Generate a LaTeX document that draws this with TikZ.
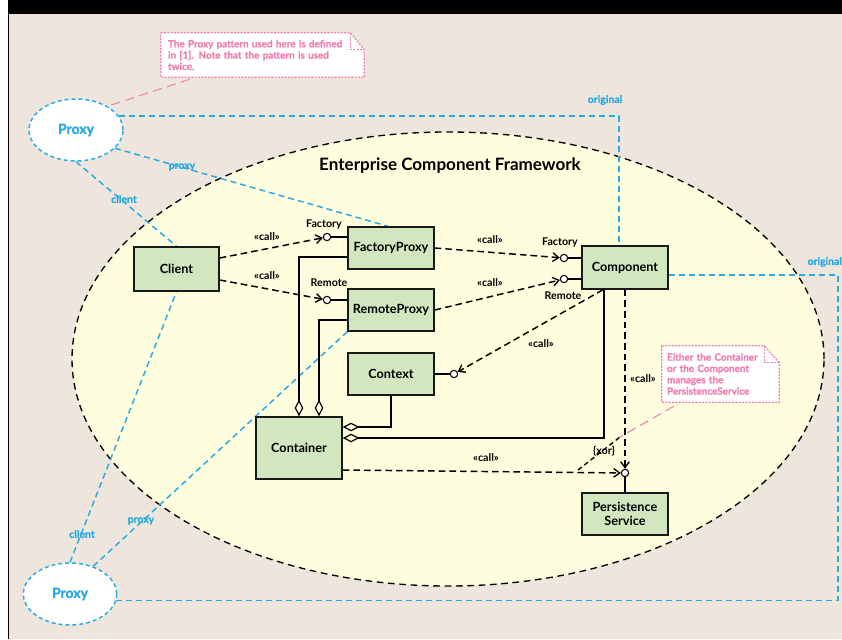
\documentclass[tikz,border=0pt]{standalone}
\usepackage{fontspec}
\setmainfont{Lato}
\newfontfamily\hvy{Lato}[BoldFeatures={FakeBold=1.2}]
\usetikzlibrary{arrows.meta,calc,shapes.geometric}
\pgfdeclarelayer{back}\pgfdeclarelayer{mid}\pgfsetlayers{back,mid,main}
\definecolor{bgc}{HTML}{EEE6DD}
\definecolor{ecfc}{HTML}{FEFDDD}
\definecolor{boxc}{HTML}{D2E6C0}
\definecolor{bluec}{HTML}{29ABE2}
\definecolor{pinkc}{HTML}{F07FB2}
\begin{document}
\begin{tikzpicture}[x=0.75pt,y=-0.75pt,
  box/.style={draw=black!90,line width=1.1pt,fill=boxc,inner sep=0pt,font=\fontsize{9.5}{10}\selectfont\bfseries,align=center},
  lolli/.style={circle,draw,fill=white,line width=0.8pt,minimum size=5.5pt,inner sep=0pt},
  dep/.style={line width=1.1pt,dash pattern=on 5pt off 3pt,-{Straight Barb[length=4.5pt,width=6.5pt,line width=1pt]}},
  agg/.style={line width=0.9pt,-{Diamond[open,length=12.5pt,width=6.5pt,line width=0.9pt]}},
  blk/.style={font=\fontsize{8}{9}\selectfont\bfseries,inner sep=1pt},
  bl/.style={draw=bluec,line width=1.1pt,dash pattern=on 4.5pt off 3pt},
  bll/.style={text=bluec,font=\hvy\fontsize{7.8}{9}\selectfont\bfseries,inner sep=1pt},
  prox/.style={ellipse,draw=bluec,fill=white,line width=1.1pt,dash pattern=on 3pt off 2.2pt,inner sep=0pt,text=bluec,font=\hvy\fontsize{10.5}{12}\selectfont\bfseries},
  pk/.style={draw=pinkc,line width=0.9pt,dash pattern=on 1.5pt off 1pt},
  pkl/.style={draw=pinkc,line width=0.8pt,dash pattern=on 7pt off 4pt},
  pkt/.style={text=pinkc,font=\hvy\fontsize{7.4}{8.5}\selectfont\bfseries,align=left,inner sep=0pt},
]
\useasboundingbox (0,0) rectangle (842,639);
\begin{pgfonlayer}{back}
\fill[white] (0,0) rectangle (842,639);
\fill[bgc] (8,14) rectangle (842,639);
\fill[black] (8,0) rectangle (842,14);
\draw[black,line width=1.2pt] (8.5,0) -- (8.5,639);
\node[ellipse,draw,fill=ecfc,dash pattern=on 5pt off 3.5pt,line width=1pt,minimum width=564pt,minimum height=340.5pt,inner sep=0pt] (ecf) at (448,359) {};
\end{pgfonlayer}
\node[font=\fontsize{12.8}{14}\selectfont\bfseries] (ecft) at (450,166) {Enterprise Component Framework};

% boxes
\node[box,minimum width=63.75pt,minimum height=33pt] (Client) at (176.5,269) {Client};
\node[box,minimum width=64.5pt,minimum height=31.5pt] (FactoryProxy) at (391,248) {FactoryProxy};
\node[box,minimum width=64.5pt,minimum height=31.5pt] (RemoteProxy) at (391,310) {RemoteProxy};
\node[box,minimum width=64.5pt,minimum height=32.25pt] (Component) at (625,267.5) {Component};
\node[box,minimum width=64.5pt,minimum height=31.5pt] (Context) at (391,374) {Context};
\node[box,minimum width=64.5pt,minimum height=46.5pt] (Container) at (299,448) {Container};
\node[box,minimum width=64.5pt,minimum height=31.5pt] (PS) at (625,514) {Persistence\\Service};

% lollipops
\node[lolli] (fpi) at (327,237) {};
\node[lolli] (rpi) at (327,300) {};
\node[lolli] (cfi) at (564,258) {};
\node[lolli] (cri) at (564,279) {};
\node[lolli] (cxi) at (454,374) {};
\node[lolli] (psi) at (625,473) {};
\draw[line width=0.9pt] (fpi) -- (fpi -| FactoryProxy.west);
\draw[line width=0.9pt] (rpi) -- (rpi -| RemoteProxy.west);
\draw[line width=0.9pt] (cfi) -- (cfi -| Component.west);
\draw[line width=0.9pt] (cri) -- (cri -| Component.west);
\draw[line width=0.9pt] (cxi) -- (Context.east);
\draw[line width=0.9pt] (psi) -- (PS.north);
\node[blk] (lf1) at (324,225) {Factory};
\node[blk] (lr1) at (329,283) {Remote};
\node[blk] (lf2) at (560,243) {Factory};
\node[blk] (lr2) at (563,296) {Remote};

% dependencies
\draw[dep] ($(Client.east)+(0,-11)$) -- (fpi);
\draw[dep] ($(Client.east)+(0,11)$) -- (rpi);
\draw[dep] (FactoryProxy.east) -- (cfi);
\draw[dep] (RemoteProxy.east) -- (cri);
\draw[dep] ($(Component.south)+(-22,0)$) -- (cxi);
\draw[dep] (Component.south) -- (psi);
\draw[dep] ($(Container.east)+(0,22)$) -- (psi);
\node[blk] (c1) at (267,237) {«call»};
\node[blk] (c2) at (267,276) {«call»};
\node[blk] (c3) at (490,240) {«call»};
\node[blk] (c4) at (490,283) {«call»};
\node[blk] (c5) at (541,344) {«call»};
\node[blk] (c6) at (643,379) {«call»};
\node[blk] (c7) at (486,458) {«call»};

% xor
\coordinate (xa) at (578,470);
\coordinate (xb) at (620,437);
\draw[line width=1pt,dash pattern=on 3.5pt off 2.5pt] (xa) -- (xb);
\node[blk] (xorl) at (604,451) {\{xor\}};

% aggregations
\draw[agg] ($(FactoryProxy.west)+(0,9)$) -| (Container.north);
\draw[agg] ($(RemoteProxy.west)+(0,10)$) -| ($(Container.north)+(20,0)$);
\draw[agg] (Context.south) |- ($(Container.east)+(0,-21)$);
\draw[agg] ($(Component.south)+(-21,0)$) |- ($(Container.east)+(0,-10)$);

% proxies
\node[prox,minimum width=70.5pt,minimum height=46.5pt] (P1) at (76,130) {Proxy};
\node[prox,minimum width=70pt,minimum height=46.5pt] (P2) at (70,594) {Proxy};
\coordinate (rc) at (838,0);
\coordinate (cmo) at ($(Component.east)+(0,7.5)$);
\begin{pgfonlayer}{mid}
\draw[bl] (P1.18) -| ($(Component.north)+(-6,0)$);
\draw[bl] (P1.-25) -- ($(FactoryProxy.north)+(-3,0)$);
\draw[bl] (P1.south) -- (Client.north);
\draw[bl] (P2.-8) -- (P2.-8 -| rc) -- (rc |- cmo) -- (cmo);
\draw[bl] (P2.north) -- (Client.south);
\draw[bl] (P2.50) -- (RemoteProxy.south west);
\end{pgfonlayer}
\node[bll] (o1) at (605,100) {original};
\node[bll] (p1l) at (182,167) {proxy};
\node[bll] (cl1) at (124,199) {client};
\node[bll,anchor=west] (o2) at (806,262) {original};
\node[bll] (cl2) at (82,534) {client};
\node[bll] (p2l) at (141,521) {proxy};

% note 1
\node[minimum width=152.25pt,minimum height=33pt,inner sep=0pt] (N1) at (262.5,55) {};
\path[pk,fill=white] (N1.north west) -- ($(N1.north east)+(-14,0)$) -- ($(N1.north east)+(0,17)$) -- (N1.south east) -- (N1.south west) -- cycle;
\draw[pk] ($(N1.north east)+(-14,0)$) -- ++(0,17) -- ($(N1.north east)+(0,17)$);
\node[pkt,text width=141.75pt] (N1t) at (N1) {The Proxy pattern used here is defined\\in [1]. Note that the pattern is used\\twice.};
\draw[pkl] ($(N1.south west)+(29,2)$) -- (P1.37);

% note 2
\node[minimum width=87.75pt,minimum height=42pt,inner sep=0pt] (N2) at (720.5,374) {};
\path[pk,fill=white] (N2.north west) -- ($(N2.north east)+(-15,0)$) -- ($(N2.north east)+(0,17)$) -- (N2.south east) -- (N2.south west) -- cycle;
\draw[pk] ($(N2.north east)+(-15,0)$) -- ++(0,17) -- ($(N2.north east)+(0,17)$);
\node[pkt,text width=80.25pt] (N2t) at (N2) {Either the Container\\or the Component\\manages the\\PersistenceService};
\draw[pkl] ($(N2.south west)+(12,4)$) -- (xb);
\end{tikzpicture}
\end{document}
